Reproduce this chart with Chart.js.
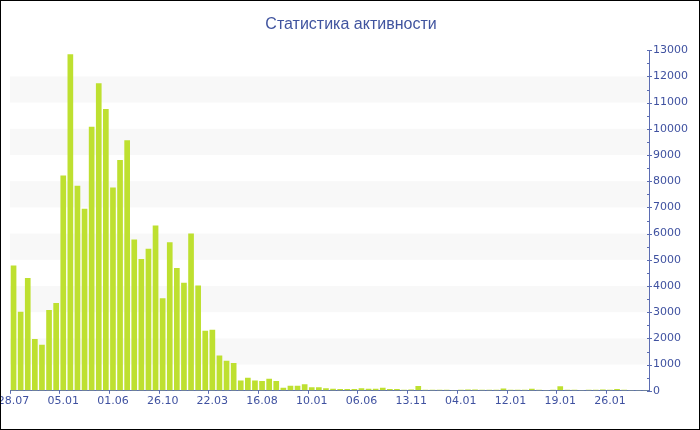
<!DOCTYPE html>
<html>
<head>
<meta charset="utf-8">
<script src="https://cdn.jsdelivr.net/npm/chart.js@4/dist/chart.umd.min.js"></script>
<style>
  html, body { margin: 0; padding: 0; background: #fff; }
  #wrap { width: 700px; height: 430px; box-sizing: border-box; border: 1px solid #000; }
</style>
</head>
<body>
<div id="wrap"><canvas id="chart" width="698" height="428"></canvas></div>
<script>
// tick labels, one every 7 bars
const tickLabels = ['28.07', '05.01', '01.06', '26.10', '22.03', '16.08', '10.01',
    '06.06', '13.11', '04.01', '12.01', '19.01', '26.01'];
const tickEvery = 7;

// activity per bar
const activity = [
    4780, 3020, 4310, 1975, 1760, 3085, 3350, 8220, 12850, 7830,
    6950, 10080, 11740, 10760, 7760, 8810, 9560, 5775, 5035, 5420,
    6310, 3530, 5670, 4690, 4120, 6000, 4015, 2295, 2330, 1350,
    1150, 1060, 395, 497, 395, 370, 460, 370, 115, 190,
    190, 250, 140, 140, 95, 77, 70, 64, 64, 100,
    77, 77, 115, 64, 64, 40, 45, 180, 40, 40,
    40, 40, 30, 40, 50, 50, 40, 40, 40, 90,
    40, 40, 40, 80, 40, 35, 40, 170, 40, 40,
    35, 40, 40, 50, 40, 70, 40, 35, 35, 35
];

const textColor = '#3f51a0';
const axisColor = '#5b6cb2';
const barColor = '#bee030';

const categories = activity.map((v, i) => i % tickEvery === 0 ? tickLabels[i / tickEvery] : '');

// light stripes between odd and even thousands
const bandsPlugin = {
    id: 'bands',
    beforeDatasetsDraw: function (chart) {
        const ctx = chart.ctx;
        const area = chart.chartArea;
        const y = chart.scales.y;
        ctx.save();
        ctx.fillStyle = '#f8f8f8';
        for (let v = 1000; v < 13000; v += 2000) {
            const top = y.getPixelForValue(v + 1000);
            const bottom = y.getPixelForValue(v);
            ctx.fillRect(area.left, top, area.right - area.left, bottom - top);
        }
        ctx.restore();
    }
};

// y tick marks: minor ones left of the axis, major ones across it
const yMarksPlugin = {
    id: 'yMarks',
    afterDraw: function (chart) {
        const ctx = chart.ctx;
        const y = chart.scales.y;
        const x0 = Math.round(y.left) + 0.5;
        ctx.save();
        ctx.strokeStyle = axisColor;
        ctx.lineWidth = 1;
        ctx.beginPath();
        y.ticks.forEach(t => {
            const py = Math.round(y.getPixelForValue(t.value)) + 0.5;
            const major = t.value % 1000 === 0;
            ctx.moveTo(x0 - 2.5, py);
            ctx.lineTo(major ? x0 + 2.5 : x0, py);
        });
        ctx.stroke();
        ctx.restore();
    }
};

const chartConfig = {
    type: 'bar',
    data: {
        labels: categories,
        datasets: [{
            label: 'Активность',
            data: activity,
            backgroundColor: barColor,
            borderWidth: 0,
            barPercentage: 0.8,
            categoryPercentage: 1
        }]
    },
    options: {
        responsive: false,
        animation: false,
        layout: {
            padding: { left: 9, right: 7, top: 0, bottom: 20 }
        },
        plugins: {
            legend: { display: false },
            tooltip: { enabled: false },
            title: {
                display: true,
                text: 'Статистика активности',
                color: '#40549f',
                font: { family: 'Liberation Sans', size: 16, weight: 'normal' },
                padding: { top: 14, bottom: 16 }
            }
        },
        scales: {
            x: {
                offset: true,
                grid: {
                    drawOnChartArea: false,
                    drawTicks: true,
                    tickLength: 3,
                    tickColor: ctx => ctx.index % tickEvery === 0 ? axisColor : 'transparent'
                },
                border: { color: axisColor, width: 1 },
                ticks: {
                    autoSkip: false,
                    maxRotation: 0,
                    minRotation: 0,
                    padding: 1,
                    color: textColor,
                    font: { family: 'DejaVu Sans', size: 11 }
                },
                afterFit: function (scale) {
                    scale.paddingLeft = 0;
                    scale.paddingRight = 0;
                }
            },
            y: {
                position: 'right',
                min: 0,
                max: 13000,
                grid: {
                    drawOnChartArea: false,
                    drawTicks: false
                },
                border: { color: axisColor, width: 1 },
                ticks: {
                    stepSize: 500,
                    autoSkip: false,
                    padding: 4,
                    color: textColor,
                    font: { family: 'DejaVu Sans', size: 11 },
                    callback: v => v % 1000 === 0 ? v : ''
                }
            }
        }
    },
    plugins: [bandsPlugin, yMarksPlugin]
};

const myChart = new Chart(document.getElementById('chart'), chartConfig);
</script>
</body>
</html>
